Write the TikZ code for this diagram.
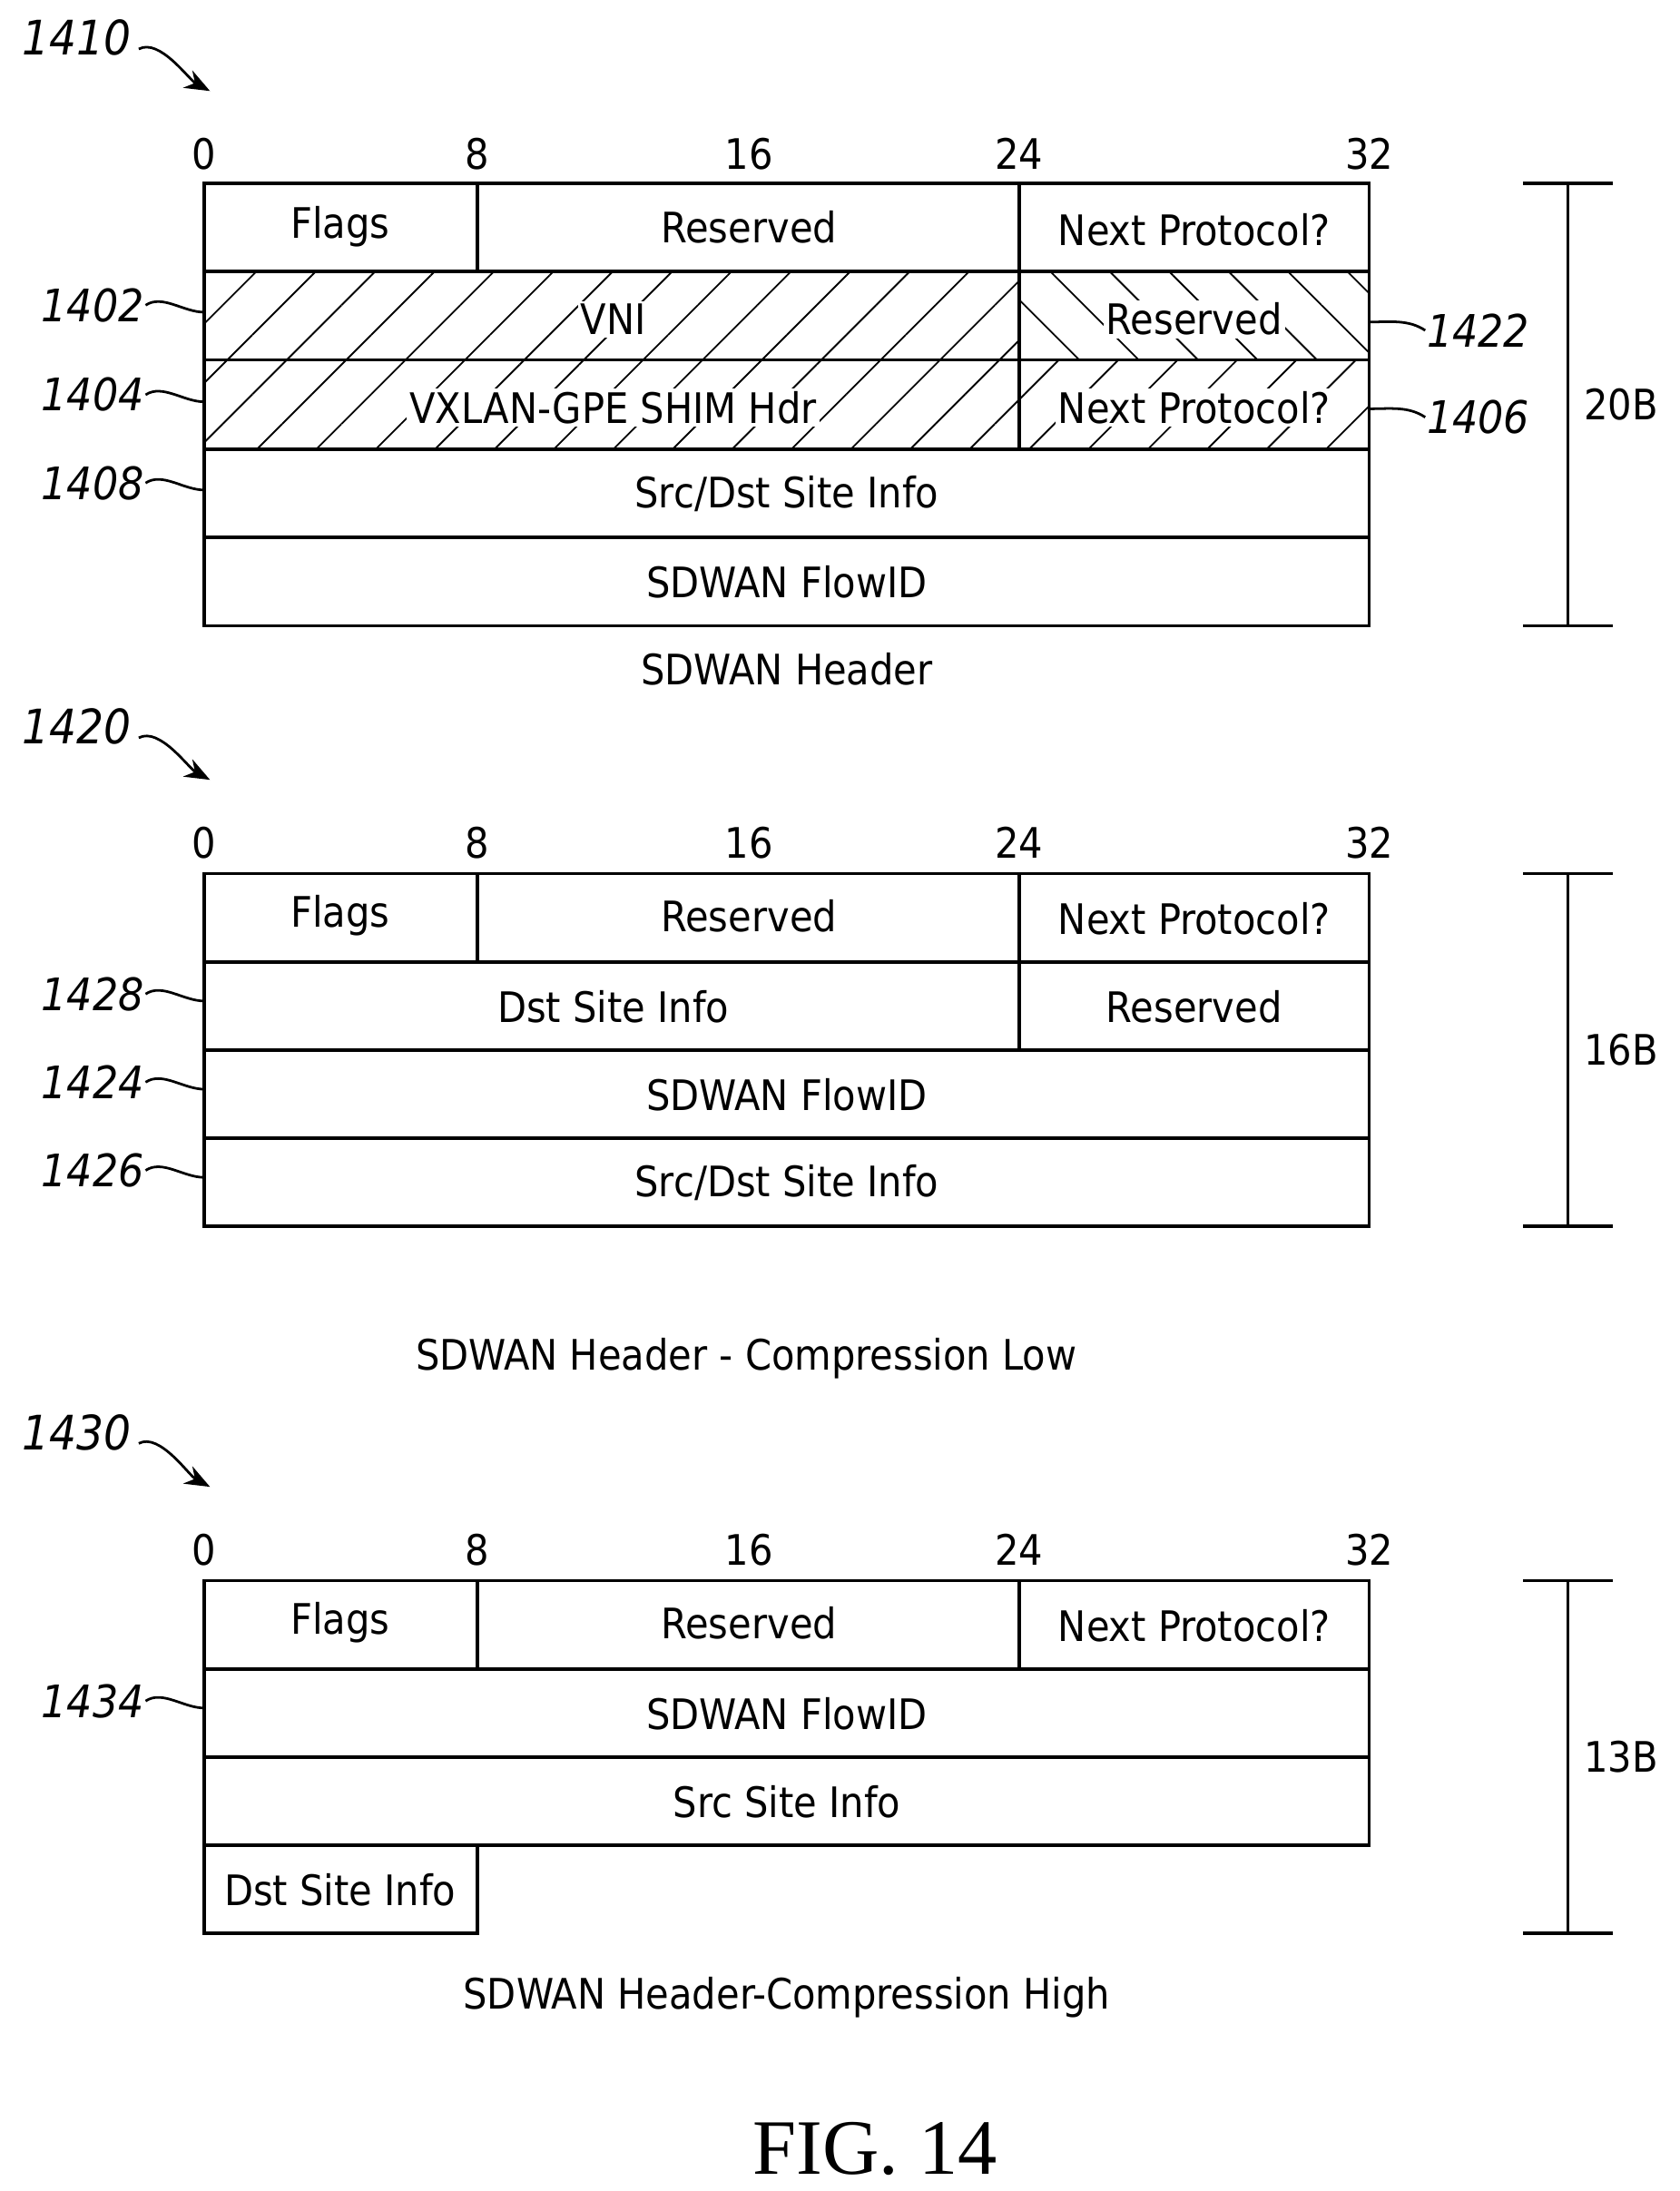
\documentclass[tikz,border=0pt]{standalone}
\usepackage{fontspec}
\setmainfont{DejaVu Sans Condensed}
\newfontfamily\serif{Liberation Serif}
\usetikzlibrary{patterns.meta,arrows.meta}
\begin{document}
\begin{tikzpicture}[x=0.5pt,y=-0.5pt,line width=1.2pt,
  txt/.style={font=\fontsize{15}{18}\selectfont,inner sep=1pt},
  lbl/.style={font=\fontsize{16}{19}\selectfont\itshape,inner sep=0pt},
  wb/.style={txt,fill=white},
  hatchR/.style={pattern={Lines[angle=45,distance=15pt,line width=0.6pt]}},
  hatchL/.style={pattern={Lines[angle=-45,distance=15pt,line width=0.6pt]}}]
\useasboundingbox (0,0) rectangle (1200,1565);
\newcommand\scalebits[1]{%
  \foreach \x/\t in {146/0,341/8,535/16,728/24,978/32}{\node[txt] at (\x,#1) {\t};}}
\newcommand\brk[3]{%
  \draw (1120,#1) -- (1120,#2); \draw (1088,#1)--(1152,#1); \draw (1088,#2)--(1152,#2);
  \node[txt,fill=white] at (1158,{(#1+#2)/2}) {#3};}
\newcommand\lab[3]{% name, y, side
  \node[lbl,anchor=east] (#1) at (104,#2) {#1};
  \draw[line width=0.9pt] (#1.east) .. controls +(12,-8) and +(-15,0) .. (146,#2+5);}
\newcommand\labr[2]{%
  \node[lbl,anchor=west] (#1) at (1018,#2) {#1};
  \draw[line width=0.9pt] (#1.west) .. controls +(-12,-8) and +(15,0) .. (978,#2-6);}
\newcommand\fig[3]{%
  \node[lbl,font=\fontsize{17}{20}\selectfont\itshape] (f#1) at (55,#2) {#1};
  \draw[line width=0.9pt,-{Stealth[length=9pt,width=7pt]}] (f#1.east)+(4,8) .. controls +(15,-8) and +(-15,-8) .. (150,#3);}

% ---------- Figure 1410
\fig{1410}{27}{65}
\scalebits{110}
\fill[hatchR] (146,194) rectangle (728,321);
\fill[hatchL] (728,194) rectangle (978,257);
\fill[hatchR] (728,257) rectangle (978,321);
\draw (146,131) rectangle (978,447);
\foreach \y in {194,257,321,384} \draw (146,\y)--(978,\y);
\draw (341,131)--(341,194); \draw (728,131)--(728,321);
\node[txt] at (243,162) {Flags};
\node[txt] at (535,162) {Reserved};
\node[txt] at (853,164) {Next Protocol?};
\node[wb] at (438,228) {VNI};
\node[wb] at (853,228) {Reserved};
\node[wb] at (438,291) {VXLAN-GPE SHIM Hdr};
\node[wb] at (853,291) {Next Protocol?};
\node[txt] at (562,353) {Src/Dst Site Info};
\node[txt] at (562,416) {SDWAN FlowID};
\node[txt] at (562,478) {SDWAN Header};
\lab{1402}{218}{}\lab{1404}{282}{}\lab{1408}{345}{}
\labr{1422}{236}\labr{1406}{298}
\brk{131}{447}{20B}

% ---------- Figure 1420
\fig{1420}{519}{557}
\scalebits{602}
\draw (146,624) rectangle (978,876);
\foreach \y in {687,750,813} \draw (146,\y)--(978,\y);
\draw (341,624)--(341,687); \draw (728,624)--(728,750);
\node[txt] at (243,654) {Flags};
\node[txt] at (535,654) {Reserved};
\node[txt] at (853,656) {Next Protocol?};
\node[txt] at (438,719) {Dst Site Info};
\node[txt] at (853,719) {Reserved};
\node[txt] at (562,782) {SDWAN FlowID};
\node[txt] at (562,845) {Src/Dst Site Info};
\node[txt] at (533,970) {SDWAN Header - Compression Low};
\lab{1428}{710}{}\lab{1424}{773}{}\lab{1426}{836}{}
\brk{624}{876}{16B}

% ---------- Figure 1430
\fig{1430}{1023}{1062}
\scalebits{1107}
\draw (146,1129) rectangle (978,1318);
\foreach \y in {1192,1255} \draw (146,\y)--(978,\y);
\draw (146,1318) rectangle (341,1381);
\draw (341,1129)--(341,1192); \draw (728,1129)--(728,1192);
\node[txt] at (243,1159) {Flags};
\node[txt] at (535,1159) {Reserved};
\node[txt] at (853,1161) {Next Protocol?};
\node[txt] at (562,1224) {SDWAN FlowID};
\node[txt] at (562,1287) {Src Site Info};
\node[txt] at (243,1350) {Dst Site Info};
\node[txt] at (562,1427) {SDWAN Header-Compression High};
\lab{1434}{1215}{}
\brk{1129}{1381}{13B}

\node[font=\fontsize{28}{32}\serif] at (625,1535) {FIG. 14};
\end{tikzpicture}
\end{document}
